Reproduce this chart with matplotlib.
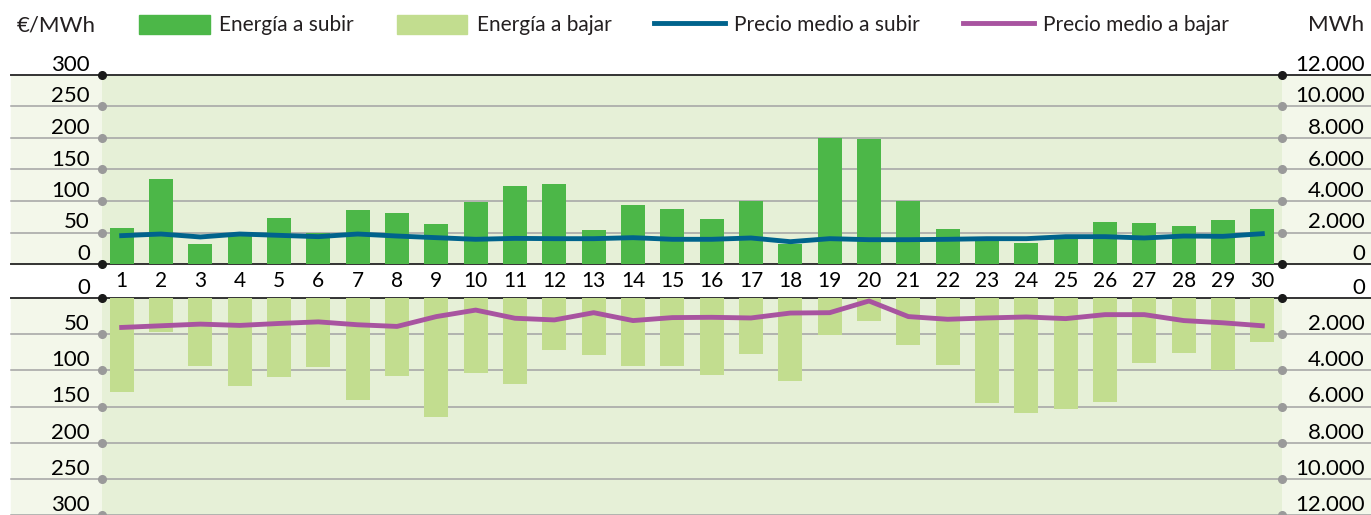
"""Mercado de regulación: energía y precio medio a subir / a bajar por día."""

import matplotlib

matplotlib.use("Agg")
import matplotlib.pyplot as plt
from matplotlib.lines import Line2D
from matplotlib.patches import Patch, Rectangle

plt.rcParams["font.family"] = ["Lato", "DejaVu Sans"]
plt.rcParams["text.color"] = "#231f20"

# --- data ---
days = list(range(1, 31))
energia_subir = [2265, 5375, 1250, 1850, 2900, 2000, 3400, 3215, 2520, 3915,
                 4930, 5060, 2140, 3725, 3470, 2835, 3980, 1290, 7980, 7915,
                 3980, 2200, 1550, 1310, 1800, 2645, 2580, 2390, 2770, 3470]
energia_bajar = [5205, 1900, 3740, 4880, 4390, 3795, 5640, 4340, 6560, 4175,
                 4770, 2875, 3145, 3740, 3740, 4285, 3090, 4610, 2040, 1250,
                 2600, 3690, 5800, 6340, 6125, 5745, 3580, 3035, 3960, 2440]
precio_subir = [45.0, 47.6, 42.9, 47.6, 45.5, 43.4, 47.6, 44.4, 41.8, 39.2,
                40.7, 40.2, 40.2, 41.8, 39.2, 39.2, 41.3, 35.4, 40.2, 38.6,
                38.6, 39.2, 40.2, 40.2, 43.4, 43.4, 41.3, 44.4, 43.9, 48.1]
precio_bajar = [40.7, 38.4, 36.1, 37.9, 35.2, 33.0, 37.0, 39.3, 25.7, 16.7,
                28.0, 30.3, 20.3, 31.2, 27.1, 26.7, 27.6, 20.8, 20.3, 4.1,
                25.7, 29.4, 27.6, 26.2, 28.5, 23.0, 23.0, 31.2, 34.3, 38.4]
price_ticks = [0, 50, 100, 150, 200, 250, 300]
mwh_ticks = [0, 2000, 4000, 6000, 8000, 10000, 12000]
labels = ["Energía a subir", "Energía a bajar", "Precio medio a subir", "Precio medio a bajar"]

C_UP = "#4cb748"
C_DOWN = "#c2dd8f"
C_PUP = "#00638c"
C_PDOWN = "#a854a0"
C_PLOT = "#e6f0d7"
C_OUTER = "#f3f7ea"
C_GRID = "#a3a3a3"
C_DARK = "#333333"

W, H = 1371, 515
fig = plt.figure(figsize=(W / 100, H / 100), dpi=100)

left, width = 102 / W, 1180 / W
ext_lo, ext_hi = -91 / 1180, 1269 / 1180  # gridlines run past the plot area


def fmt_mwh(v):
    return f"{v:,.0f}".replace(",", ".")


def make_panel(top_px, bottom_px, inverted):
    ax = fig.add_axes([left, 1 - bottom_px / H, width, (bottom_px - top_px) / H])
    ax.set_facecolor(C_PLOT)
    axp = ax.twinx()
    for a in (ax, axp):
        for s in a.spines.values():
            s.set_visible(False)
    ax.set_xlim(0.5, 30.5)
    if inverted:
        ax.set_ylim(12000, 0)
        axp.set_ylim(300, 0)
    else:
        ax.set_ylim(0, 12000)
        axp.set_ylim(0, 300)

    # gridlines + end dots
    for v in mwh_ticks:
        dark = v == 0 or (v == 12000 and not inverted)
        ax.axhline(v, xmin=ext_lo, xmax=ext_hi, color=C_DARK if dark else C_GRID,
                   lw=1.4 if dark else 1.1, zorder=1, clip_on=False)
        ax.plot([0, 1], [v, v], transform=ax.get_yaxis_transform(), ls="none",
                marker="o", ms=5.5, color="#1a1a1a" if dark else "#9a9a9a",
                zorder=6, clip_on=False)

    # right axis: MWh
    ax.yaxis.tick_right()
    ax.set_yticks(mwh_ticks)
    ax.set_yticklabels([fmt_mwh(v) for v in mwh_ticks], fontsize=16)
    ax.tick_params(axis="y", length=0, pad=83 * 0.72)
    for t in ax.get_yticklabels():
        t.set_ha("right")
        t.set_va("bottom")

    # left axis: €/MWh
    axp.yaxis.tick_left()
    axp.set_yticks(price_ticks)
    axp.set_yticklabels([str(v) for v in price_ticks], fontsize=16)
    axp.tick_params(axis="y", length=0, pad=12 * 0.72)
    for t in axp.get_yticklabels():
        t.set_va("bottom")
    return ax, axp


# outer light band behind both panels
for top_px, bottom_px in [(75, 264), (298, H)]:
    fig.add_artist(Rectangle((11 / W, 1 - bottom_px / H), (W - 11) / W,
                             (bottom_px - top_px) / H, transform=fig.transFigure,
                             color=C_OUTER, zorder=-1))

ax_up, axp_up = make_panel(75, 264, inverted=False)
ax_dn, axp_dn = make_panel(298, 515, inverted=True)

ax_up.bar(days, energia_subir, width=0.61, color=C_UP, zorder=2)
axp_up.plot(days, precio_subir, color=C_PUP, lw=3.5, zorder=3, solid_joinstyle="round")
ax_dn.bar(days, energia_bajar, width=0.61, color=C_DOWN, zorder=2)
axp_dn.plot(days, precio_bajar, color=C_PDOWN, lw=3.5, zorder=3, solid_joinstyle="round")

ax_up.set_xticks(days)
ax_up.set_xticklabels([str(d) for d in days], fontsize=15)
ax_up.tick_params(axis="x", length=0, pad=5)
axp_up.tick_params(axis="x", length=0)
ax_dn.set_xticks([])
axp_dn.set_xticks([])

# legend + units
handles = [
    Patch(color=C_UP),
    Patch(color=C_DOWN),
    Line2D([], [], color=C_PUP, lw=3.5),
    Line2D([], [], color=C_PDOWN, lw=3.5),
]
fig.legend(handles, labels, loc="center left", bbox_to_anchor=(139 / W, 1 - 25 / H),
           ncol=4, frameon=False, fontsize=15, handlelength=3.4, handleheight=1.05,
           handletextpad=0.45, columnspacing=2.05, borderpad=0, borderaxespad=0)
fig.text(17 / W, 1 - 25 / H, "€/MWh", fontsize=16, ha="left", va="center")
fig.text(1364 / W, 1 - 25 / H, "MWh", fontsize=16, ha="right", va="center")

fig.savefig("out.png", dpi=100)
